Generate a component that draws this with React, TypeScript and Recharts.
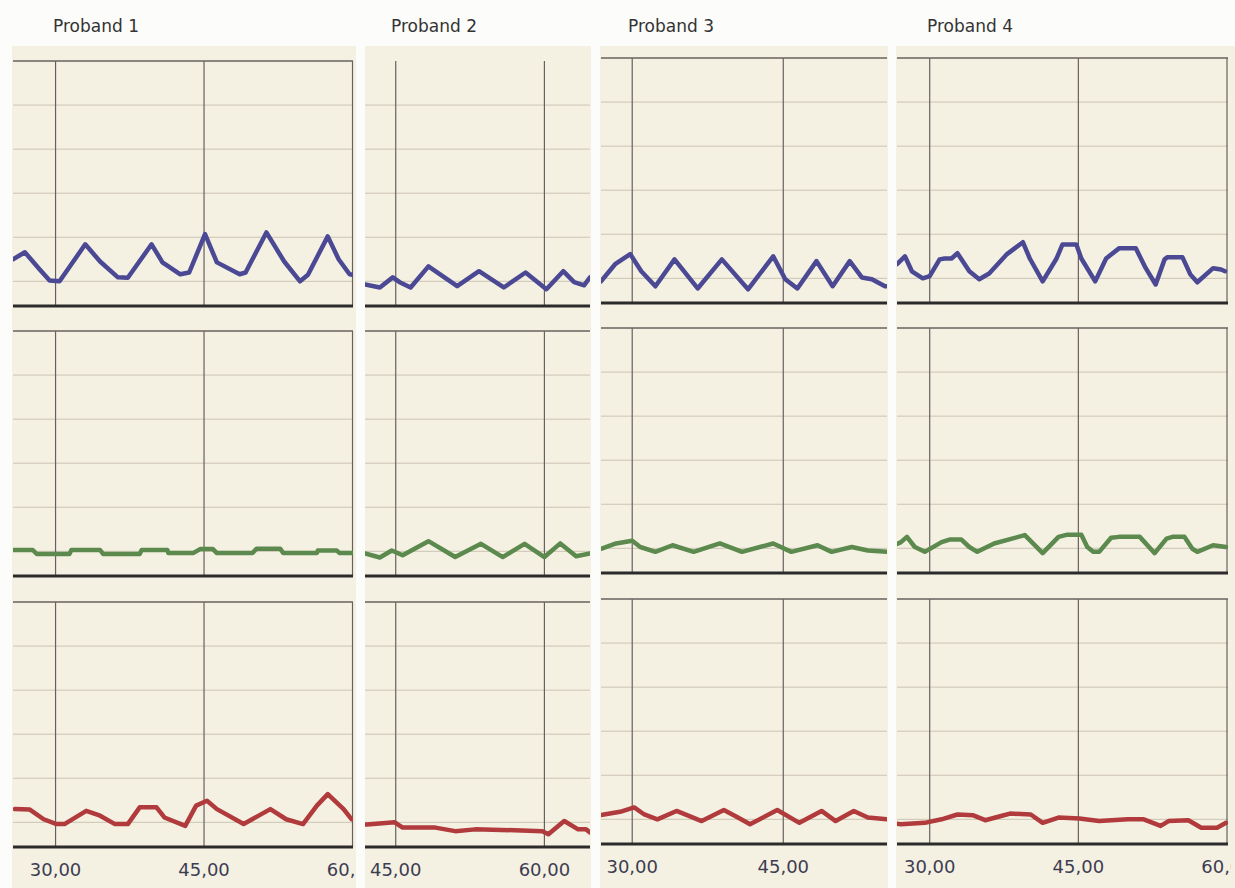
import React from 'react';
import { LineChart, Line, XAxis, YAxis, CartesianGrid, ReferenceLine } from 'recharts';

const titles = ['Proband 1', 'Proband 2', 'Proband 3', 'Proband 4'];

// time window and tick marks of each proband column
const xDomains = [[25.7, 60.05], [41.9, 64.6], [26.9, 55.3], [26.7, 60.1]];
const xTicks = [[30, 45, 60], [45, 60], [30, 45], [30, 45, 60]];
const yTicks = [0, 1, 2, 3, 4, 5];
const yDomain = [-0.56, 5];

// [time, value] pairs
const blue1 = [[25.7, 0.5], [26.9, 0.66], [28.4, 0.27], [29.4, 0.02], [30.4, 0], [33.0, 0.84], [34.5, 0.45], [36.3, 0.09], [37.3, 0.08], [39.7, 0.84], [40.8, 0.43], [42.6, 0.16], [43.5, 0.2], [45.1, 1.07], [46.3, 0.43], [48.6, 0.16], [49.2, 0.2], [51.3, 1.11], [53.1, 0.45], [54.7, 0], [55.5, 0.15], [57.5, 1.02], [58.6, 0.5], [59.7, 0.16], [60.0, 0.15]];
const blue2 = [[41.9, -0.07], [43.4, -0.14], [44.7, 0.09], [45.4, -0.02], [46.5, -0.14], [48.3, 0.34], [51.2, -0.11], [53.4, 0.23], [55.9, -0.14], [58.1, 0.2], [60.2, -0.18], [61.9, 0.23], [63.0, -0.02], [64.0, -0.09], [64.6, 0.09]];
const blue3 = [[26.9, -0.07], [28.3, 0.32], [29.8, 0.55], [30.9, 0.16], [32.3, -0.18], [34.2, 0.43], [36.5, -0.23], [38.9, 0.43], [41.5, -0.25], [44.0, 0.5], [45.2, -0.02], [46.4, -0.23], [48.3, 0.39], [49.9, -0.18], [51.6, 0.39], [52.8, 0.02], [53.8, -0.02], [55.1, -0.18], [55.3, -0.18]];
const blue4 = [[26.7, 0.32], [27.5, 0.5], [28.2, 0.16], [29.3, 0], [30, 0.05], [31, 0.43], [31.5, 0.45], [32.2, 0.45], [32.8, 0.57], [34, 0.16], [35, -0.02], [36, 0.11], [37.8, 0.55], [39.4, 0.82], [40.1, 0.45], [41.4, -0.07], [42.8, 0.45], [43.4, 0.77], [44.8, 0.77], [45.3, 0.45], [46.7, -0.07], [47.8, 0.45], [49.1, 0.68], [50.8, 0.68], [51.8, 0.23], [52.8, -0.14], [53.7, 0.43], [54, 0.48], [55.5, 0.48], [56.3, 0.09], [57, -0.09], [58.6, 0.23], [59.4, 0.2], [59.8, 0.16]];

const green1 = [[25.7, 0.03], [27.7, 0.03], [28.1, -0.06], [31.4, -0.06], [31.6, 0.03], [34.5, 0.03], [34.8, -0.06], [38.5, -0.06], [38.7, 0.03], [41.3, 0.03], [41.4, -0.04], [43.9, -0.04], [44.6, 0.05], [45.9, 0.05], [46.3, -0.04], [49.9, -0.04], [50.3, 0.06], [52.7, 0.06], [53.0, -0.04], [56.4, -0.04], [56.5, 0.02], [58.4, 0.02], [58.7, -0.04], [60.0, -0.04]];
const green2 = [[41.9, -0.05], [43.4, -0.14], [44.6, 0.02], [45.7, -0.09], [48.3, 0.23], [51.0, -0.13], [53.6, 0.17], [55.8, -0.13], [58.0, 0.17], [60.0, -0.13], [61.6, 0.18], [63.2, -0.11], [64.6, -0.05]];
const green3 = [[26.9, -0.01], [28.4, 0.11], [30.0, 0.17], [30.8, 0.03], [32.3, -0.08], [34.0, 0.07], [36.1, -0.08], [38.7, 0.11], [40.9, -0.08], [44.0, 0.11], [45.8, -0.08], [48.4, 0.07], [49.8, -0.08], [51.8, 0.03], [53.4, -0.05], [55.3, -0.08]];
const green4 = [[26.7, 0.1], [27.1, 0.14], [27.7, 0.26], [28.5, 0.03], [29.5, -0.08], [31.2, 0.14], [32.0, 0.2], [33.2, 0.2], [34.0, 0.03], [34.8, -0.08], [36.5, 0.11], [39.6, 0.3], [41.4, -0.11], [43.0, 0.26], [43.9, 0.31], [45.3, 0.31], [45.9, 0.03], [46.5, -0.08], [47.1, -0.08], [48.3, 0.24], [49.1, 0.26], [51.2, 0.26], [52.7, -0.11], [53.9, 0.22], [54.5, 0.26], [55.7, 0.26], [56.5, -0.01], [57.0, -0.08], [58.6, 0.07], [59.9, 0.03]];

const red1 = [[25.9, 0.3], [27.4, 0.29], [28.8, 0.07], [30.1, -0.04], [30.9, -0.04], [33.1, 0.26], [34.5, 0.15], [36.0, -0.04], [37.3, -0.04], [38.5, 0.34], [40.2, 0.34], [41.0, 0.11], [43.1, -0.08], [44.2, 0.38], [45.3, 0.49], [46.3, 0.3], [49.0, -0.04], [51.7, 0.3], [53.3, 0.07], [55.0, -0.04], [56.4, 0.38], [57.5, 0.64], [59.1, 0.3], [59.9, 0.07]];
const red2 = [[41.9, -0.05], [42.1, -0.05], [44.9, 0], [45.7, -0.12], [49.0, -0.12], [51.0, -0.2], [53.0, -0.16], [57.0, -0.18], [59.8, -0.2], [60.4, -0.27], [62.0, 0.03], [63.4, -0.16], [64.2, -0.16], [64.6, -0.23]];
const red3 = [[26.9, 0.1], [27.2, 0.11], [28.8, 0.17], [30.2, 0.27], [31.2, 0.11], [32.5, 0], [34.4, 0.19], [36.9, -0.04], [39.1, 0.21], [40.5, 0.04], [41.7, -0.11], [44.4, 0.21], [46.6, -0.08], [48.8, 0.19], [50.2, -0.04], [52.0, 0.19], [53.4, 0.04], [55.3, 0]];
const red4 = [[26.7, -0.1], [27.1, -0.11], [29.5, -0.08], [31.2, 0], [32.8, 0.11], [34.4, 0.09], [35.6, -0.02], [37.3, 0.08], [38.1, 0.13], [40.2, 0.11], [41.4, -0.08], [43.0, 0.04], [45.1, 0.02], [47.1, -0.04], [50.0, 0], [51.6, 0], [53.3, -0.15], [54.1, -0.04], [56.1, -0.02], [57.4, -0.19], [59.0, -0.19], [59.9, -0.08]];

const rows = [
  { color: '#4b4994', series: [blue1, blue2, blue3, blue4] },
  { color: '#5c8a4e', series: [green1, green2, green3, green4] },
  { color: '#b03a3c', series: [red1, red2, red3, red4] },
];

// page layout (px)
const colLeft = [13, 365, 601, 897];
const colWidth = [340, 225, 286, 331];
const colPadRight = [3, 0, 0, 3];
const colShift = [0, 0, -3, -3];
const panelBg = [[12, 356], [365, 591], [600, 888], [896, 1235]];
const titleLeft = [53, 391, 628, 927];
const rowTop = [61, 331, 602];
const PLOT_H = 245;

const fmt = (v: number) => v.toFixed(2).replace('.', ',');
const NoTick = () => <g />;

function Trace({ col, row }: { col: number; row: number }) {
  const last = row === 2;
  const noTop = row === 0 && col === 1;
  const axisH = last ? 34 : 3;
  const pts = rows[row].series[col].map(([t, v]) => ({ t, v }));
  return (
    <div style={{ position: 'absolute', left: colLeft[col], top: rowTop[row] + colShift[col] - 2 }}>
      <LineChart
        width={colWidth[col] + colPadRight[col]}
        height={PLOT_H + 2 + axisH}
        data={pts}
        margin={{ top: 2, right: colPadRight[col], bottom: 0, left: 0 }}
      >
        <CartesianGrid vertical={false} syncWithTicks stroke="#cbc3b5" strokeWidth={1} />
        <CartesianGrid horizontal={false} syncWithTicks stroke="#676060" strokeWidth={1.2} />
        <XAxis
          dataKey="t"
          type="number"
          domain={xDomains[col]}
          ticks={xTicks[col]}
          interval={0}
          allowDataOverflow
          height={axisH}
          axisLine={{ stroke: '#2b2b2b', strokeWidth: 3 }}
          tickLine={false}
          tickSize={6}
          tickMargin={10}
          tick={last ? { fill: '#3d3d52', fontSize: 18, fontFamily: 'DejaVu Sans' } : NoTick}
          tickFormatter={fmt}
        />
        <YAxis hide type="number" domain={yDomain} ticks={noTop ? yTicks.slice(0, 5) : yTicks} allowDataOverflow />
        {!noTop && <ReferenceLine y={5} stroke="#6f6866" strokeWidth={1.6} />}
        <Line
          type="linear"
          dataKey="v"
          stroke={rows[row].color}
          strokeWidth={4.5}
          strokeLinejoin="round"
          strokeLinecap="round"
          dot={false}
          isAnimationActive={false}
        />
      </LineChart>
    </div>
  );
}

export default function App() {
  return (
    <div style={{ position: 'absolute', left: 0, top: 0, width: 1235, height: 888, background: '#fcfcfa', overflow: 'hidden' }}>
      {panelBg.map(([a, b], i) => (
        <div key={'bg' + i} style={{ position: 'absolute', left: a, top: 46, width: b - a, height: 842, background: '#f5f1e2' }} />
      ))}
      {titles.map((t, i) => (
        <div
          key={t}
          style={{ position: 'absolute', left: titleLeft[i], top: 16, fontFamily: 'DejaVu Sans', fontSize: 17, lineHeight: '20px', color: '#333333' }}
        >
          {t}
        </div>
      ))}
      {[0, 1, 2].map((r) => [0, 1, 2, 3].map((c) => <Trace key={r + '-' + c} col={c} row={r} />))}
    </div>
  );
}
